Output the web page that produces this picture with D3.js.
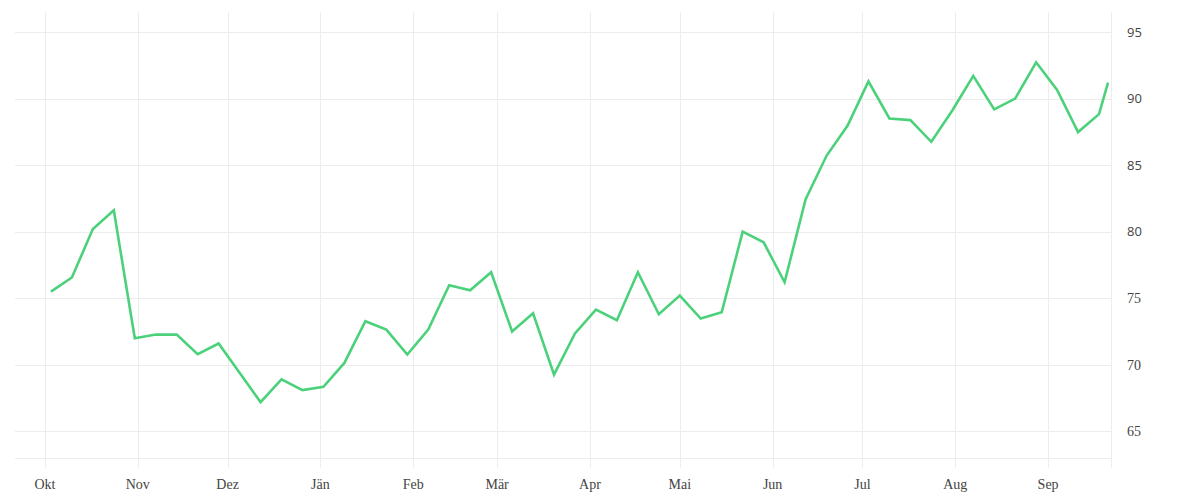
<!doctype html>
<html lang="de">
  <head>
    <meta charset="UTF-8" />
    <title>Weekly index</title>
    <script src="https://d3js.org/d3.v7.min.js"></script>
    <style>
      body {
        margin: 0;
        background: #fff;
      }
      .grid line {
        stroke: #ececec;
        stroke-width: 1px;
      }
      .line {
        fill: none;
        stroke: #4cd17b;
        stroke-width: 2.6px;
        stroke-linejoin: miter;
      }
      .xlabel {
        font-family: 'Liberation Serif', serif;
        font-size: 14px;
        fill: #444;
      }
      .ylabel {
        font-size: 14px;
        fill: #444;
      }
      .ylabel.sans {
        font-family: 'Open Sans', 'Noto Sans', sans-serif;
        font-size: 13px;
      }
      .ylabel.serif {
        font-family: 'Liberation Serif', serif;
      }
    </style>
  </head>
  <body>
    <svg width="1200" height="500"></svg>
    <script>
      // weekly observations
      const dates = [
        '2022-10-03', '2022-10-10', '2022-10-17', '2022-10-24', '2022-10-31',
        '2022-11-07', '2022-11-14', '2022-11-21', '2022-11-28', '2022-12-05',
        '2022-12-12', '2022-12-19', '2022-12-26', '2023-01-02', '2023-01-09',
        '2023-01-16', '2023-01-23', '2023-01-30', '2023-02-06', '2023-02-13',
        '2023-02-20', '2023-02-27', '2023-03-06', '2023-03-13', '2023-03-20',
        '2023-03-27', '2023-04-03', '2023-04-10', '2023-04-17', '2023-04-24',
        '2023-05-01', '2023-05-08', '2023-05-15', '2023-05-22', '2023-05-29',
        '2023-06-05', '2023-06-12', '2023-06-19', '2023-06-26', '2023-07-03',
        '2023-07-10', '2023-07-17', '2023-07-24', '2023-07-31', '2023-08-07',
        '2023-08-14', '2023-08-21', '2023-08-28', '2023-09-04', '2023-09-11',
        '2023-09-18', '2023-09-21',
      ];
      const values = [
        75.5, 76.56, 80.2, 81.6, 72.0, 72.27, 72.27, 70.8, 71.6, 69.4,
        67.2, 68.9, 68.1, 68.35, 70.14, 73.27, 72.64, 70.77, 72.64, 75.98,
        75.6, 76.95, 72.5, 73.87, 69.26, 72.35, 74.15, 73.35, 76.95, 73.8,
        75.2, 73.47, 73.95, 80.0, 79.2, 76.2, 82.42, 85.7, 87.95, 91.29,
        88.5, 88.38, 86.75, 89.1, 91.7, 89.19, 90.0, 92.72, 90.64, 87.48,
        88.83, 91.19,
      ];
      const monthTicks = [
        '2022-10-01', '2022-11-01', '2022-12-01', '2023-01-01',
        '2023-02-01', '2023-03-01', '2023-04-01', '2023-05-01',
        '2023-06-01', '2023-07-01', '2023-08-01', '2023-09-01',
      ];
      const monthLabels = [
        'Okt', 'Nov', 'Dez', 'Jän', 'Feb', 'Mär',
        'Apr', 'Mai', 'Jun', 'Jul', 'Aug', 'Sep',
      ];
      const yTicks = [65, 70, 75, 80, 85, 90, 95];

      const parse = d3.utcParse('%Y-%m-%d');
      const data = dates.map((d, i) => ({ date: parse(d), value: values[i] }));
      const ticks = monthTicks.map(parse);

      const plotLeft = 15;
      const plotRight = 1111;
      const plotTop = 12;
      const plotBottom = 458;
      const svg = d3.select('svg');

      const x = d3
        .scaleUtc()
        .domain([parse('2022-09-21'), parse('2023-09-22')])
        .range([plotLeft, plotRight]);

      const y = d3
        .scaleLinear()
        .domain([63, 96.5])
        .range([plotBottom, plotTop]);

      // Grid
      const grid = svg.append('g').attr('class', 'grid');

      grid
        .selectAll('.hgrid')
        .data(yTicks)
        .enter()
        .append('line')
        .attr('x1', plotLeft)
        .attr('x2', plotRight)
        .attr('y1', (d) => Math.round(y(d)) + 0.5)
        .attr('y2', (d) => Math.round(y(d)) + 0.5);

      grid
        .append('line')
        .attr('x1', plotLeft)
        .attr('x2', plotRight)
        .attr('y1', plotBottom + 0.5)
        .attr('y2', plotBottom + 0.5);

      grid
        .selectAll('.vgrid')
        .data(ticks)
        .enter()
        .append('line')
        .attr('x1', (d) => Math.round(x(d)) + 0.5)
        .attr('x2', (d) => Math.round(x(d)) + 0.5)
        .attr('y1', plotTop)
        .attr('y2', plotBottom + 10);

      grid
        .append('line')
        .attr('x1', plotRight + 0.5)
        .attr('x2', plotRight + 0.5)
        .attr('y1', plotTop)
        .attr('y2', plotBottom + 10);

      // X labels
      svg
        .selectAll('.xlabel')
        .data(ticks)
        .enter()
        .append('text')
        .attr('class', 'xlabel')
        .attr('x', (d) => x(d))
        .attr('y', 489)
        .attr('text-anchor', 'middle')
        .text((d, i) => monthLabels[i]);

      // Y labels
      svg
        .selectAll('.ylabel')
        .data(yTicks)
        .enter()
        .append('text')
        .attr('class', (d) => 'ylabel ' + (d >= 80 ? 'sans' : 'serif'))
        .attr('x', 1127)
        .attr('y', (d) => y(d))
        .attr('dy', '0.35em')
        .text((d) => d);

      // Line
      const line = d3
        .line()
        .x((d) => x(d.date))
        .y((d) => y(d.value));

      svg.append('path').datum(data).attr('class', 'line').attr('d', line);
    </script>
  </body>
</html>
